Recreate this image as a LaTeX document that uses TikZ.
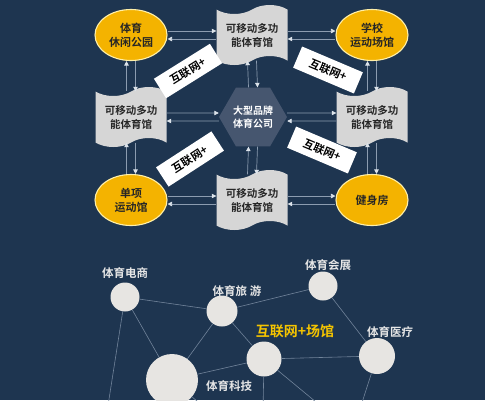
\documentclass[tikz,border=0pt]{standalone}
\usepackage{fontspec}
\setmainfont{Noto Sans CJK SC}[BoldFont={Noto Sans CJK SC Bold}]
\usetikzlibrary{shapes.geometric,shapes.symbols,arrows.meta}
\definecolor{bg}{HTML}{1E3550}
\definecolor{amber}{HTML}{F4B300}
\definecolor{amberline}{HTML}{FFEFA8}
\definecolor{wavefill}{HTML}{D6D6D6}
\definecolor{hexfill}{HTML}{46566F}
\definecolor{conn}{HTML}{8C9CB0}
\definecolor{tipc}{HTML}{DCE3EA}
\definecolor{netline}{HTML}{71849A}
\definecolor{dotfill}{HTML}{E7E5E2}
\definecolor{labc}{HTML}{E6E6E6}
\definecolor{gold}{HTML}{F5C400}
\tikzset{
  mytip/.tip={Triangle[length=4.5pt,width=4.5pt,color=tipc]},
  ell/.style={ellipse, fill=amber, draw=amberline, line width=1.1pt,
    minimum width=72pt, minimum height=51pt, inner sep=0pt, align=center,
    font=\bfseries\fontsize{11}{14}\selectfont, text=black!85},
  wave/.style={tape, fill=wavefill, draw=none, minimum width=71pt,
    minimum height=60pt, tape bend height=9pt, inner sep=0pt, align=center,
    font=\bfseries\fontsize{10.5}{14}\selectfont, text=black!85},
  hex/.style={regular polygon, regular polygon sides=6, fill=hexfill,
    minimum size=68pt, inner sep=0pt, align=center,
    font=\bfseries\fontsize{10}{13}\selectfont, text=white},
  tag/.style={fill=white, minimum width=66pt, minimum height=23pt,
    inner sep=0pt, font=\bfseries\fontsize{11}{12}\selectfont, text=black},
  cl/.style={draw=conn, line width=0.7pt},
  dot/.style={circle, fill=dotfill, inner sep=0pt},
  nl/.style={draw=netline, line width=0.6pt},
  lab/.style={font=\bfseries\fontsize{11.5}{13}\selectfont, text=labc, inner sep=0pt},
}
\newcommand{\hpair}[2]{%
  \draw[cl,-mytip] ([yshift=4pt]#1.east) -- ([yshift=4pt]#2.west);
  \draw[cl,mytip-] ([yshift=-4pt]#1.east) -- ([yshift=-4pt]#2.west);}
\newcommand{\vpair}[2]{%
  \draw[cl,mytip-] ([xshift=-4.5pt]#1.south) -- ([xshift=-4.5pt]#2.north);
  \draw[cl,-mytip] ([xshift=4.5pt]#1.south) -- ([xshift=4.5pt]#2.north);}
\begin{document}
\begin{tikzpicture}[x=1pt,y=-1pt]
\fill[bg] (0,0) rectangle (485,400);
\useasboundingbox (0,0) rectangle (485,400);
\clip (0,0) rectangle (485,400);

% upper diagram
\node[ell] (tl) at (131,35) {体育\\休闲公园};
\node[ell] (tr) at (372,35) {学校\\运动场馆};
\node[ell] (bl) at (131,200) {单项\\运动馆};
\node[ell] (br) at (372,200) {健身房};
\node[wave] (wt) at (252,35) {可移动多功\\能体育馆};
\node[wave] (wl) at (131,117) {可移动多功\\能体育馆};
\node[wave] (wr) at (372,117) {可移动多功\\能体育馆};
\node[wave] (wb) at (252,200) {可移动多功\\能体育馆};
\node[hex] (hx) at (253,117) {大型品牌\\体育公司};

\hpair{tl}{wt}
\hpair{wt}{tr}
\hpair{wl}{hx}
\hpair{hx}{wr}
\hpair{bl}{wb}
\hpair{wb}{br}
\vpair{tl}{wl}
\vpair{wt}{hx}
\vpair{tr}{wr}
\vpair{wl}{bl}
\vpair{hx}{wb}
\vpair{wr}{br}

\node[tag, rotate=32] (t1) at (188,71) {互联网+};
\node[tag, rotate=-23] (t2) at (328,70) {互联网+};
\node[tag, rotate=33] (t3) at (190,159) {互联网+};
\node[tag, rotate=-23] (t4) at (322,150) {互联网+};

% network
\node[dot, minimum size=29pt] (ds) at (125,297) {};
\node[dot, minimum size=31pt] (ly) at (222,311) {};
\node[dot, minimum size=29pt] (hz) at (323,286) {};
\node[dot, minimum size=36pt] (yl) at (377,356) {};
\node[dot, minimum size=35pt] (cg) at (264,359) {};
\node[dot, minimum size=52pt] (kj) at (172,380) {};

\coordinate (e1) at (107,412);
\coordinate (e2) at (263,412);
\coordinate (e3) at (328,412);
\coordinate (e4) at (359,412);
\coordinate (e5) at (210,412);

\draw[nl] (ds) -- (ly);
\draw[nl] (ds) -- (kj);
\draw[nl] (ds) -- (e1);
\draw[nl] (ly) -- (hz);
\draw[nl] (ly) -- (kj);
\draw[nl] (ly) -- (cg);
\draw[nl] (hz) -- (yl);
\draw[nl] (kj) -- (cg);
\draw[nl] (cg) -- (yl);
\draw[nl] (cg) -- (e2);
\draw[nl] (cg) -- (e3);
\draw[nl] (yl) -- (e4);
\draw[nl] (kj) -- (e5);

\node[lab] (lds) at (125,273) {体育电商};
\node[lab] (lly) at (237,291) {体育旅 游};
\node[lab] (lhz) at (328,265) {体育会展};
\node[lab] (lyl) at (390,332) {体育医疗};
\node[lab] (lkj) at (229,386) {体育科技};
\node[font=\bfseries\fontsize{14}{16}\selectfont, text=gold, inner sep=0pt] (lcg) at (295,331) {互联网+场馆};
\end{tikzpicture}
\end{document}
